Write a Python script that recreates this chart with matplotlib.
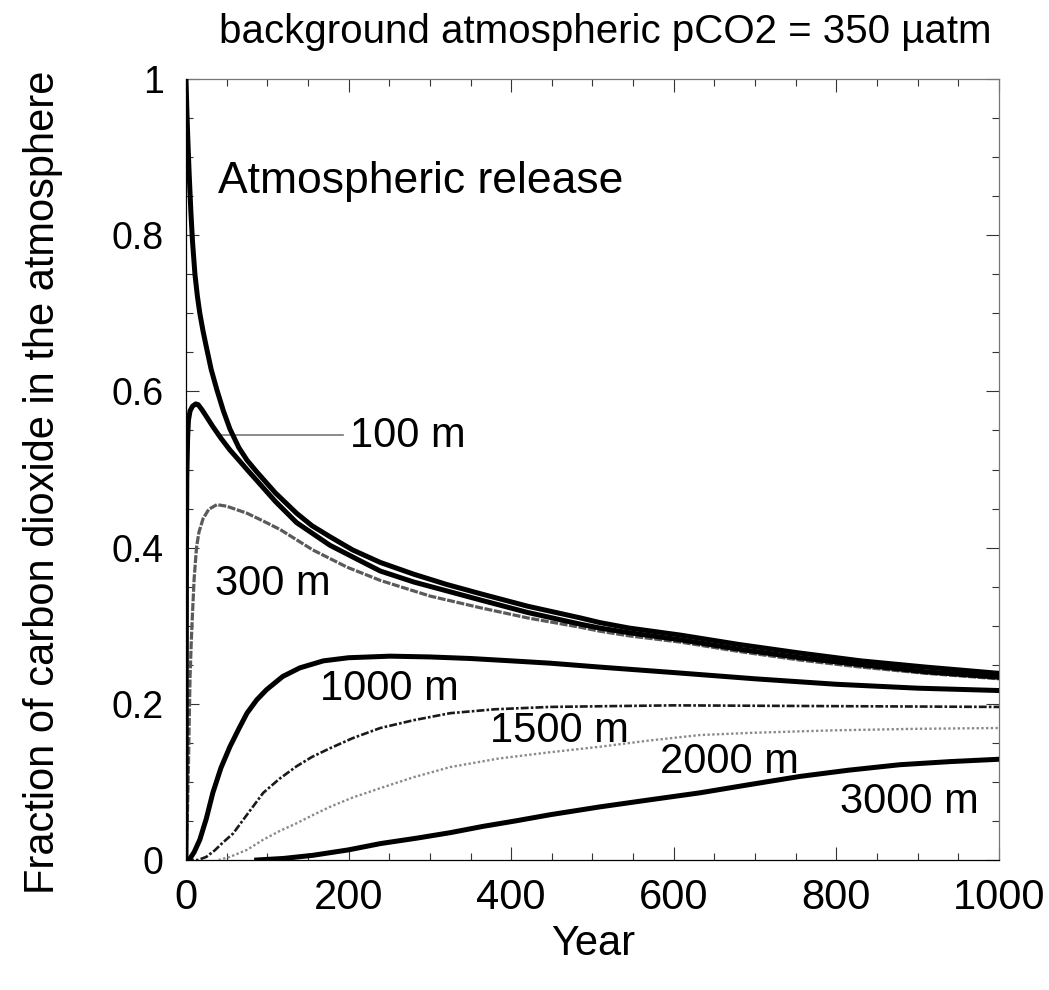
import matplotlib
matplotlib.use("Agg")
import matplotlib.pyplot as plt
from matplotlib.ticker import MultipleLocator, FixedLocator, FixedFormatter

plt.rcParams['font.family'] = ['Liberation Sans', 'DejaVu Sans']

# ---- data ----
years_atm = [0, 1, 2, 3, 4, 6, 8, 11, 14, 17, 21, 25, 31, 38, 46, 54, 65, 75, 87, 110, 136,
             155, 177, 205, 239, 280, 320, 362, 420, 485, 509, 545, 608, 680, 755, 830, 910, 1000]
frac_atm = [1.0, 0.962, 0.930, 0.902, 0.876, 0.830, 0.792, 0.750, 0.722, 0.700, 0.677, 0.657,
            0.628, 0.602, 0.575, 0.552, 0.528, 0.512, 0.497, 0.470, 0.444, 0.428, 0.414,
            0.397, 0.381, 0.366, 0.353, 0.341, 0.325, 0.310, 0.304, 0.297, 0.288, 0.276,
            0.265, 0.255, 0.247, 0.239]

years_100 = [0, 0.3, 0.6, 1, 2, 3, 5, 8, 12, 15, 20, 25, 33, 43, 54, 65, 75, 87, 110, 136,
             177, 222, 239, 280, 362, 420, 485, 509, 545, 608, 680, 755, 830, 910, 1000]
frac_100 = [0, 0.20, 0.40, 0.49, 0.54, 0.563, 0.575, 0.581, 0.584, 0.583, 0.576, 0.568,
            0.555, 0.54, 0.525, 0.512, 0.500, 0.486, 0.459, 0.432, 0.403, 0.379, 0.370,
            0.356, 0.333, 0.317, 0.302, 0.297, 0.291, 0.282, 0.270, 0.259, 0.250, 0.241,
            0.234]

years_300 = [0, 1, 2, 3, 4, 5, 6.5, 8, 10, 13, 16, 21, 28, 38, 50, 75, 95, 116, 136, 156, 177,
             198, 239, 300, 362, 420, 485, 509, 545, 608, 680, 755, 830, 910, 1000]
frac_300 = [0, 0.03, 0.07, 0.12, 0.18, 0.235, 0.28, 0.316, 0.36, 0.401, 0.42, 0.437, 0.449,
            0.455, 0.453, 0.444, 0.434, 0.423, 0.41, 0.397, 0.386, 0.375, 0.358, 0.338,
            0.323, 0.310, 0.298, 0.293, 0.287, 0.279, 0.267, 0.256, 0.247, 0.239, 0.232]

years_1000 = [0, 5, 10, 17, 25, 33, 43, 54, 65, 75, 87, 99, 119, 140, 169, 200, 251, 300, 350,
              400, 448, 509, 600, 700, 800, 900, 1000]
frac_1000 = [0, 0.002, 0.01, 0.026, 0.053, 0.086, 0.118, 0.145, 0.168, 0.188, 0.205, 0.218,
             0.235, 0.246, 0.255, 0.259, 0.261, 0.260, 0.258, 0.255, 0.252, 0.247, 0.240,
             0.232, 0.225, 0.220, 0.217]

years_1500 = [0, 15, 25, 35, 45, 58, 75, 95, 115, 136, 155, 177, 205, 239, 280, 325, 380, 448,
              520, 600, 800, 1000]
frac_1500 = [0, 0, 0.004, 0.012, 0.022, 0.034, 0.058, 0.086, 0.104, 0.12, 0.132, 0.143, 0.156,
             0.169, 0.179, 0.188, 0.193, 0.196, 0.197, 0.198, 0.197, 0.196]

years_2000 = [40, 54, 75, 95, 115, 136, 155, 177, 205, 239, 280, 325, 385, 448, 509, 570, 632,
              700, 796, 900, 1000]
frac_2000 = [0, 0.004, 0.013, 0.026, 0.037, 0.047, 0.057, 0.068, 0.08, 0.092, 0.106, 0.119,
             0.13, 0.138, 0.145, 0.153, 0.16, 0.163, 0.166, 0.168, 0.169]

years_3000 = [87, 120, 156, 200, 239, 284, 325, 365, 405, 448, 509, 570, 632, 690, 755, 815,
              878, 940, 1000]
frac_3000 = [0, 0.002, 0.006, 0.013, 0.021, 0.028, 0.035, 0.043, 0.05, 0.058, 0.068, 0.077,
             0.086, 0.096, 0.107, 0.115, 0.122, 0.126, 0.129]

x_ticks = [0, 200, 400, 600, 800, 1000]
x_labels = ['0', '200', '400', '600', '800', '1000']
y_ticks = [0, 0.2, 0.4, 0.6, 0.8, 1.0]
y_labels = ['0', '0.2', '0.4', '0.6', '0.8', '1']

title = 'background atmospheric pCO2 = 350 µatm'
x_title = 'Year'
y_title = 'Fraction of carbon dioxide in the atmosphere'

# ---- figure ----
fig = plt.figure(figsize=(10.49, 9.90), dpi=100)
ax = fig.add_axes([0.17731, 0.13131, 0.77502, 0.78889])

thick = 3.6
ax.plot(years_atm, frac_atm, color='black', lw=thick, solid_joinstyle='round', zorder=5)
ax.plot(years_100, frac_100, color='black', lw=thick, solid_joinstyle='round', zorder=4)
ax.plot(years_300, frac_300, color='#5a5a5a', lw=2.3, ls=(0, (2.5, 0.5)), zorder=3)
ax.plot(years_1000, frac_1000, color='black', lw=thick, solid_joinstyle='round', zorder=4)
ax.plot(years_1500, frac_1500, color='#1a1a1a', lw=1.9, ls=(0, (3, 0.8, 1, 0.8)), zorder=3)
ax.plot(years_2000, frac_2000, color='#8a8a8a', lw=1.7, ls=(0, (1, 1)), zorder=3)
ax.plot(years_3000, frac_3000, color='black', lw=thick, solid_joinstyle='round', zorder=4)

ax.set_xlim(0, 1000)
ax.set_ylim(0, 1)

ax.xaxis.set_major_locator(FixedLocator(x_ticks))
ax.xaxis.set_major_formatter(FixedFormatter(x_labels))
ax.xaxis.set_minor_locator(MultipleLocator(50))
ax.yaxis.set_major_locator(FixedLocator(y_ticks))
ax.yaxis.set_major_formatter(FixedFormatter(y_labels))
ax.yaxis.set_minor_locator(MultipleLocator(0.05))

ax.tick_params(which='both', direction='in', top=True, right=True, width=0.8, color='#333333')
ax.tick_params(which='major', length=9.5)
ax.tick_params(which='minor', length=4.8)
ax.tick_params(axis='x', which='major', labelsize=30, pad=13)
ax.tick_params(axis='y', which='major', labelsize=27, pad=16)

for side in ['left', 'bottom']:
    ax.spines[side].set_linewidth(0.9)
    ax.spines[side].set_color('black')
for side in ['top', 'right']:
    ax.spines[side].set_linewidth(0.9)
    ax.spines[side].set_color('#777777')

# labels on curves
ax.text(39.4, 0.854, 'Atmospheric release', fontsize=32, ha='left', va='baseline')
ax.plot([38.1, 193.1], [0.544, 0.544], color='#777777', lw=1.2, zorder=2)
ax.text(201.7, 0.529, '100 m', fontsize=30, ha='left', va='baseline')
ax.text(35.7, 0.339, '300 m', fontsize=30, ha='left', va='baseline')
ax.text(164.8, 0.205, '1000 m', fontsize=30, ha='left', va='baseline')
ax.text(373.9, 0.151, '1500 m', fontsize=30, ha='left', va='baseline')
ax.text(583.0, 0.111, '2000 m', fontsize=30, ha='left', va='baseline')
ax.text(804.4, 0.060, '3000 m', fontsize=30, ha='left', va='baseline')

fig.text(0.5767, 1 - 43 / 990, title, fontsize=29, ha='center', va='baseline')
fig.text(0.5655, 1 - 955 / 990, x_title, fontsize=30, ha='center', va='baseline')
fig.text(0.041, 0.513, y_title, fontsize=30, rotation=90, ha='center', va='center',
         family=['Liberation Sans Narrow', 'Liberation Sans', 'DejaVu Sans'])

fig.savefig('out.png', dpi=100)
